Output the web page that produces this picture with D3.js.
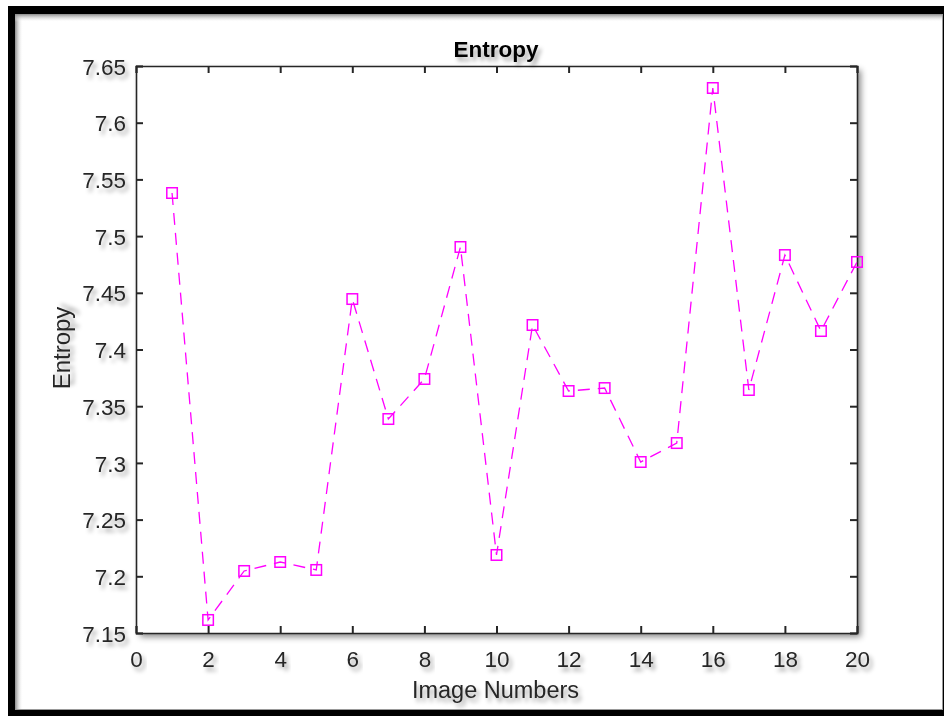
<!DOCTYPE html>
<html><head><meta charset="utf-8">
<script src="https://cdn.jsdelivr.net/npm/d3@7"></script>
<style>html,body{margin:0;padding:0;background:#fff;}svg{display:block;}</style>
</head><body>
<svg id="chart" width="944" height="716"></svg>
<script>
const imageNumbers = [1,2,3,4,5,6,7,8,9,10,11,12,13,14,15,16,17,18,19,20];
const entropyValues = [7.538,7.1615,7.2047,7.2126,7.2056,7.4445,7.3387,7.374,7.4904,7.2188,7.4216,7.3634,7.366,7.3008,7.3175,7.6306,7.3643,7.4833,7.4163,7.4772];
const xTicks = [0,2,4,6,8,10,12,14,16,18,20];
const yTicks = [7.15,7.2,7.25,7.3,7.35,7.4,7.45,7.5,7.55,7.6,7.65];
const titleText = "Entropy", xLabel = "Image Numbers", yLabel = "Entropy";

const svg = d3.select("#chart");
const defs = svg.append("defs");
const ts = defs.append("filter").attr("id","tshadow").attr("x","-20%").attr("y","-30%").attr("width","150%").attr("height","180%");
ts.append("feDropShadow").attr("dx",3).attr("dy",4).attr("stdDeviation",2.2).attr("flood-color","#000").attr("flood-opacity",0.35);
const bs = defs.append("filter").attr("id","bshadow").attr("x","-5%").attr("y","-5%").attr("width","115%").attr("height","115%");
bs.append("feDropShadow").attr("dx",4).attr("dy",4).attr("stdDeviation",3).attr("flood-color","#000").attr("flood-opacity",0.45);
const gl = defs.append("linearGradient").attr("id","gl").attr("x1","0").attr("x2","1").attr("y1","0").attr("y2","0");
gl.append("stop").attr("offset","0").attr("stop-color","#8a8a8a");
gl.append("stop").attr("offset","1").attr("stop-color","#fff").attr("stop-opacity",0);
const gt = defs.append("linearGradient").attr("id","gt").attr("x1","0").attr("x2","0").attr("y1","0").attr("y2","1");
gt.append("stop").attr("offset","0").attr("stop-color","#8a8a8a");
gt.append("stop").attr("offset","1").attr("stop-color","#fff").attr("stop-opacity",0);

// frame
svg.append("rect").attr("x",8).attr("y",6).attr("width",940).attr("height",716).attr("fill","#000");
svg.append("rect").attr("x",15).attr("y",14).attr("width",927).attr("height",696).attr("fill","#fff");
svg.append("rect").attr("x",15).attr("y",14).attr("width",8).attr("height",696).attr("fill","url(#gl)");
svg.append("rect").attr("x",15).attr("y",14).attr("width",927).attr("height",8).attr("fill","url(#gt)");
svg.append("line").attr("x1",942.5).attr("x2",942.5).attr("y1",14).attr("y2",710).attr("stroke","#999").attr("stroke-width",1);
svg.append("line").attr("x1",15).attr("x2",942).attr("y1",709.5).attr("y2",709.5).attr("stroke","#999").attr("stroke-width",1);

const L=136, R=857, T=66, B=633;
const x = d3.scaleLinear().domain([0,20]).range([L,R]);
const y = d3.scaleLinear().domain([7.15,7.65]).range([B,T]);

svg.append("rect").attr("x",L).attr("y",T).attr("width",R-L).attr("height",B-T).attr("fill","#fff").attr("filter","url(#bshadow)");

const axCol = "#262626";
const font = "'Liberation Sans', Arial, Helvetica, sans-serif";
const tk = 7;
const gx = svg.append("g").attr("transform",`translate(0,${B})`)
  .call(d3.axisBottom(x).tickValues(xTicks).tickSize(-tk).tickPadding(0).tickFormat(d3.format("d")));
const gxTop = svg.append("g").attr("transform",`translate(0,${T})`)
  .call(d3.axisTop(x).tickValues(xTicks).tickSize(-tk).tickFormat(""));
const gy = svg.append("g").attr("transform",`translate(${L},0)`)
  .call(d3.axisLeft(y).tickValues(yTicks).tickSize(-tk).tickPadding(0).tickFormat(d => d3.format(".2~f")(d)));
const gyR = svg.append("g").attr("transform",`translate(${R},0)`)
  .call(d3.axisRight(y).tickValues(yTicks).tickSize(-tk).tickFormat(""));
[gx,gxTop,gy,gyR].forEach(g=>{
  g.select(".domain").attr("stroke",axCol).attr("stroke-width",1.6);
  g.selectAll(".tick line").attr("stroke",axCol).attr("stroke-width",2);
});
gx.selectAll(".tick text").attr("y",0).attr("dy",0).attr("transform","translate(0,34)")
  .attr("font-family",font).attr("font-size",22.5).attr("fill","#262626").attr("filter","url(#tshadow)");
gy.selectAll(".tick text").attr("x",-10).attr("dy","0.36em")
  .attr("font-family",font).attr("font-size",22.5).attr("fill","#262626").attr("filter","url(#tshadow)");

const line = d3.line().x((d,i)=>x(imageNumbers[i])).y(d=>y(d));
svg.append("path").datum(entropyValues).attr("d",line).attr("fill","none")
  .attr("stroke","#ff00ff").attr("stroke-width",1.3).attr("stroke-dasharray","12,8");
const ms = 10.5;
svg.selectAll("rect.mk").data(entropyValues).enter().append("rect").attr("class","mk")
  .attr("x",(d,i)=>x(imageNumbers[i])-ms/2).attr("y",d=>y(d)-ms/2)
  .attr("width",ms).attr("height",ms).attr("fill","none").attr("stroke","#ff00ff").attr("stroke-width",1.5);

svg.append("text").attr("x",496).attr("y",57).attr("text-anchor","middle")
  .attr("font-family",font).attr("font-weight","bold").attr("font-size",22.5).attr("fill","#000")
  .attr("filter","url(#tshadow)").text(titleText);
svg.append("text").attr("x",495.5).attr("y",698).attr("text-anchor","middle")
  .attr("font-family",font).attr("font-size",23.5).attr("fill","#262626")
  .attr("filter","url(#tshadow)").text(xLabel);
svg.append("text").attr("transform","translate(70,348) rotate(-90)").attr("text-anchor","middle")
  .attr("font-family",font).attr("font-size",24).attr("fill","#262626")
  .attr("filter","url(#tshadow)").text(yLabel);
</script>
</body></html>
